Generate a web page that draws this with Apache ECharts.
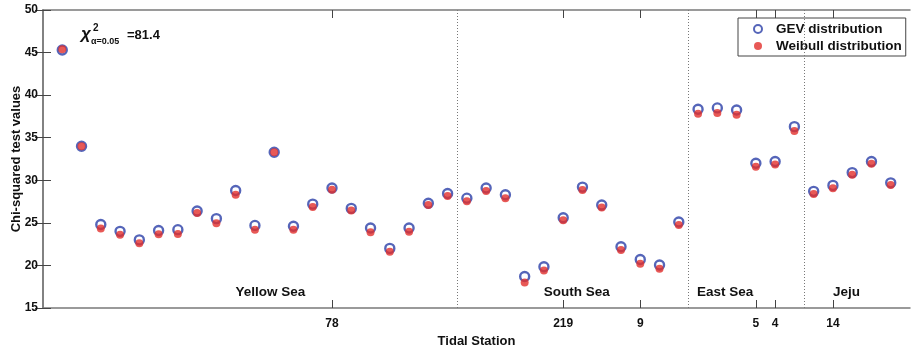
<!DOCTYPE html>
<html>
<head>
<meta charset="utf-8">
<script src="https://cdn.jsdelivr.net/npm/echarts@6/dist/echarts.min.js"></script>
<style>
  html, body { margin: 0; padding: 0; background: #fff; }
  #chart { width: 911px; height: 350px; }
</style>
</head>
<body>
<div id="chart"></div>
<script>
// station values, station 1..44
const gevValues = [
  45.3, 34.0, 24.8, 24.0, 23.0, 24.1, 24.2, 26.4, 25.5, 28.8,
  24.7, 33.3, 24.6, 27.2, 29.1, 26.7, 24.4, 22.0, 24.4, 27.3,
  28.45, 27.9, 29.1, 28.3, 18.7, 19.85, 25.6, 29.2, 27.1, 22.2,
  20.7, 20.05, 25.1, 38.35, 38.5, 38.25, 32.0, 32.2, 36.3, 28.7,
  29.4, 30.9, 32.2, 29.7
]
const weibullValues = [
  45.4, 34.0, 24.35, 23.6, 22.6, 23.65, 23.7, 26.15, 24.95, 28.3,
  24.2, 33.3, 24.2, 26.85, 28.9, 26.45, 23.9, 21.6, 23.95, 27.1,
  28.15, 27.55, 28.75, 27.9, 18.0, 19.4, 25.3, 28.85, 26.8, 21.8,
  20.2, 19.6, 24.75, 37.8, 37.9, 37.7, 31.6, 31.85, 35.8, 28.4,
  29.05, 30.65, 31.95, 29.45
]
// labelled stations on the x axis (position -> label)
const tickPositions = [15, 27, 31, 37, 38, 41]
const tickLabels = ['78', '219', '9', '5', '4', '14']
// sea regions: boundaries and name positions
const regionBounds = [21.5, 33.5, 39.5]
const regionNames = ['Yellow Sea', 'South Sea', 'East Sea', 'Jeju']
const regionCenters = [11.8, 27.7, 35.4, 41.7]

const font = '"Liberation Sans", Arial, Helvetica, sans-serif'
const axisColor = '#7a7a7a'

const chart = echarts.init(document.getElementById('chart'))

const gevData = gevValues.map((v, i) => [i + 1, v])
const weibullData = weibullValues.map((v, i) => [i + 1, v])

chart.setOption({
  animation: false,
  textStyle: { fontFamily: font },
  grid: { left: 43, right: 1, top: 10, bottom: 42, outerBoundsMode: 'none', containLabel: false },
  legend: {
    orient: 'vertical',
    left: 738,
    top: 18,
    padding: [4, 4, 3, 15],
    itemGap: 3,
    itemWidth: 8,
    itemHeight: 8,
    borderColor: '#444',
    borderWidth: 1,
    backgroundColor: '#fff',
    textStyle: { fontFamily: font, fontWeight: 'bold', fontSize: 13.5, color: '#111', padding: [0, 0, 0, 9] },
    data: ['GEV distribution', 'Weibull distribution']
  },
  xAxis: [
    {
      type: 'value',
      min: 0,
      max: 45,
      name: 'Tidal Station',
      nameLocation: 'middle',
      nameGap: 27,
      nameMoveOverlap: false,
      nameTextStyle: { fontFamily: font, fontWeight: 'bold', fontSize: 13, color: '#111' },
      splitLine: { show: false },
      axisLine: { lineStyle: { color: axisColor, width: 1.5 } },
      axisTick: { inside: true, length: 8, customValues: tickPositions, lineStyle: { color: '#444' } },
      axisLabel: {
        customValues: tickPositions,
        margin: 10,
        fontFamily: font,
        fontWeight: 'bold',
        fontSize: 12,
        color: '#111',
        formatter: (v) => tickLabels[tickPositions.indexOf(v)] || ''
      }
    },
    {
      type: 'value',
      position: 'top',
      min: 0,
      max: 45,
      splitLine: { show: false },
      axisLine: { lineStyle: { color: axisColor, width: 1.5 } },
      axisTick: { inside: true, length: 8, customValues: tickPositions, lineStyle: { color: '#444' } },
      axisLabel: { show: false }
    }
  ],
  yAxis: [
    {
      type: 'value',
      min: 15,
      max: 50,
      interval: 5,
      name: 'Chi-squared test values',
      nameLocation: 'middle',
      nameGap: 20,
      nameMoveOverlap: false,
      nameTextStyle: { fontFamily: font, fontWeight: 'bold', fontSize: 13, color: '#111' },
      splitLine: { show: false },
      axisLine: { show: true, lineStyle: { color: axisColor, width: 1.5 } },
      axisTick: { inside: true, length: 8, lineStyle: { color: '#444' } },
      axisLabel: { margin: 5, fontFamily: font, fontWeight: 'bold', fontSize: 12, color: '#111' }
    },
    {
      type: 'value',
      position: 'right',
      min: 15,
      max: 50,
      interval: 5,
      splitLine: { show: false },
      axisLine: { show: true, lineStyle: { color: axisColor, width: 1.5 } },
      axisTick: { inside: true, length: 8, lineStyle: { color: '#444' } },
      axisLabel: { show: false }
    }
  ],
  series: [
    {
      name: 'GEV distribution',
      type: 'scatter',
      symbol: 'circle',
      symbolSize: 9,
      itemStyle: { color: 'rgba(255,255,255,0)', borderColor: '#2a3ea8', borderWidth: 2.4 },
      data: gevData,
      markLine: {
        silent: true,
        symbol: 'none',
        label: { show: false },
        lineStyle: { type: [1, 2], color: '#777', width: 1 },
        data: regionBounds.map((x) => ({ xAxis: x }))
      },
      markPoint: {
        silent: true,
        symbol: 'circle',
        symbolSize: 0,
        label: {
          show: true,
          position: 'inside',
          fontFamily: font,
          fontWeight: 'bold',
          fontSize: 13.5,
          color: '#111',
          formatter: (p) => p.name
        },
        data: regionNames.map((n, i) => ({ name: n, coord: [regionCenters[i], 16.9] }))
      },
      z: 2
    },
    {
      name: 'Weibull distribution',
      type: 'scatter',
      symbol: 'circle',
      symbolSize: 8,
      itemStyle: { color: '#e2302c' },
      data: weibullData,
      z: 3
    }
  ],
  graphic: [
    { type: 'text', left: 81, top: 26, style: { text: 'χ', font: 'italic bold 17px ' + font, fill: '#111' } },
    { type: 'text', left: 93, top: 23, style: { text: '2', font: 'bold 10px ' + font, fill: '#111' } },
    { type: 'text', left: 91, top: 37, style: { text: 'α=0.05', font: 'bold 9px ' + font, fill: '#111' } },
    { type: 'text', left: 127, top: 29, style: { text: '=81.4', font: 'bold 13px ' + font, fill: '#111' } }
  ]
})
</script>
</body>
</html>
